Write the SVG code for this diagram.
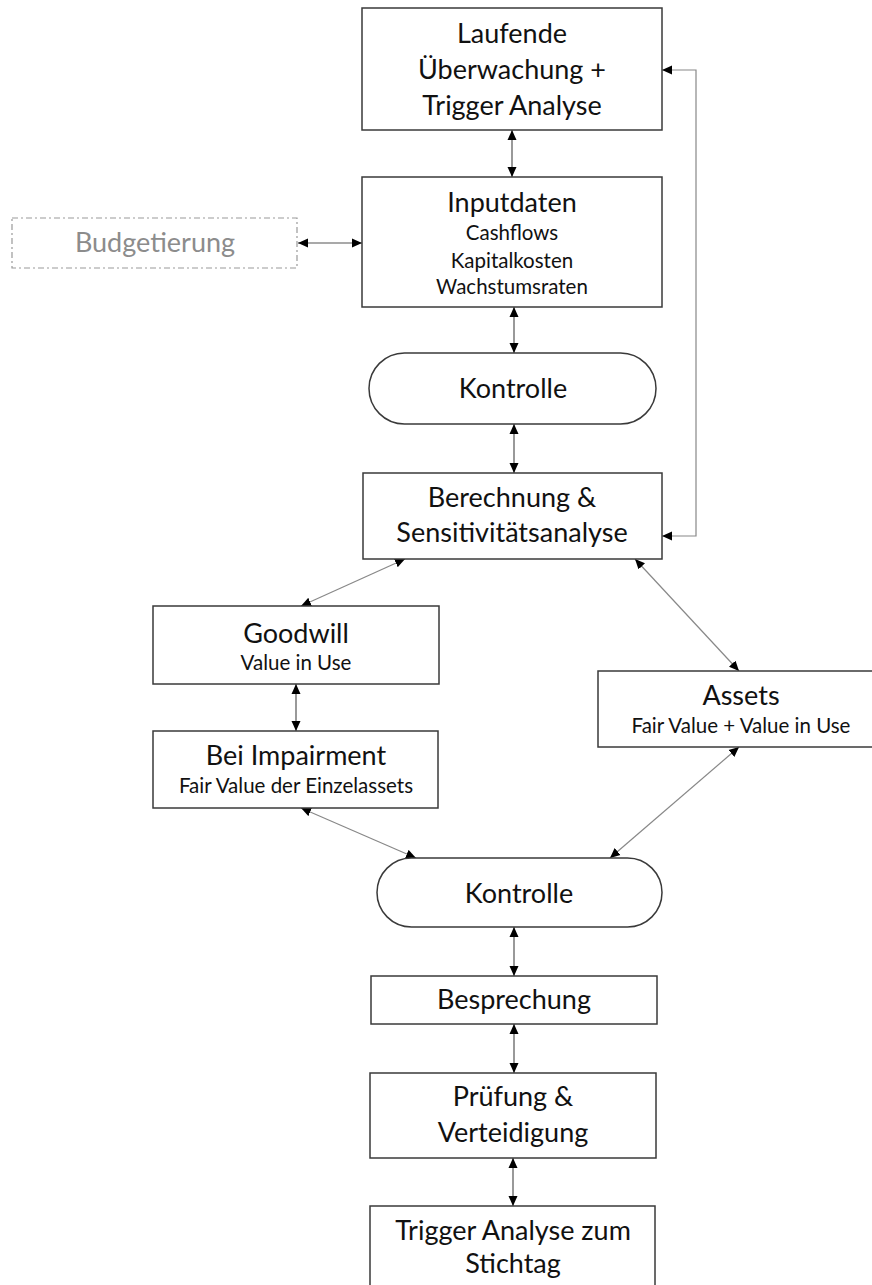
<svg xmlns="http://www.w3.org/2000/svg" width="872" height="1285" viewBox="0 0 872 1285">
<style>
.box{fill:#fff;stroke:#3a3a3a;stroke-width:1.5}
.t{font-family:Lato,"Liberation Sans",sans-serif;font-size:27px;fill:#111;text-anchor:middle}
.s{font-family:Lato,"Liberation Sans",sans-serif;font-size:20.5px;fill:#111;text-anchor:middle}
.c{fill:none;stroke:#555;stroke-width:1.2;marker-start:url(#ah);marker-end:url(#ah)}
.d{stroke:#888}
</style>
<defs>
<marker id="ah" markerUnits="userSpaceOnUse" markerWidth="10" markerHeight="10" refX="10" refY="4.5" orient="auto-start-reverse" viewBox="0 0 10 9">
<path d="M0,0 L10,4.5 L0,9 z" fill="#000"/>
</marker>
</defs>
<rect width="872" height="1285" fill="#fff"/>
<g id="connectors">
<path class="c" d="M512,130 V177"/>
<path class="c" d="M298,243 H362"/>
<path class="c" d="M514,307 V353"/>
<path class="c" d="M514,424 V473"/>
<path class="c d" d="M662,70 H696 V536 H662"/>
<path class="c d" d="M405,559 L301,606"/>
<path class="c d" d="M635,559 L739,671"/>
<path class="c" d="M296,684 V731"/>
<path class="c d" d="M301,808 L416,858"/>
<path class="c d" d="M739,747 L610,858"/>
<path class="c" d="M514,927 V976"/>
<path class="c" d="M514,1024 V1073"/>
<path class="c" d="M513,1158 V1206"/>
</g>
<g id="laufende">
<rect class="box" x="362" y="8" width="300" height="122"/>
<text class="t" x="512" y="43">Laufende</text>
<text class="t" x="512" y="79">Überwachung +</text>
<text class="t" x="512" y="115">Trigger Analyse</text>
</g>
<g id="inputdaten">
<rect class="box" x="362" y="177" width="300" height="130"/>
<text class="t" x="512" y="212">Inputdaten</text>
<text class="s" x="512" y="240">Cashflows</text>
<text class="s" x="512" y="268">Kapitalkosten</text>
<text class="s" x="512" y="294">Wachstumsraten</text>
</g>
<g id="budgetierung">
<rect x="12" y="218" width="285" height="50" fill="#fff" stroke="#999" stroke-width="1.2" stroke-dasharray="6,3,2,3"/>
<text class="t" x="155" y="252" style="fill:#8c8c8c">Budgetierung</text>
</g>
<g id="kontrolle1">
<rect class="box" x="369" y="353" width="287" height="71" rx="35.5" ry="35.5"/>
<text class="t" x="513" y="398">Kontrolle</text>
</g>
<g id="berechnung">
<rect class="box" x="363" y="473" width="299" height="86"/>
<text class="t" x="512" y="507">Berechnung &amp;</text>
<text class="t" x="512" y="542">Sensitivitätsanalyse</text>
</g>
<g id="goodwill">
<rect class="box" x="153" y="606" width="286" height="78"/>
<text class="t" x="296" y="643">Goodwill</text>
<text class="s" x="296" y="670">Value in Use</text>
</g>
<g id="impairment">
<rect class="box" x="153" y="731" width="285" height="77"/>
<text class="t" x="296" y="765">Bei Impairment</text>
<text class="s" x="296" y="793">Fair Value der Einzelassets</text>
</g>
<g id="assets">
<rect class="box" x="598" y="671" width="287" height="76"/>
<text class="t" x="741" y="705">Assets</text>
<text class="s" x="741" y="733">Fair Value + Value in Use</text>
</g>
<g id="kontrolle2">
<rect class="box" x="377" y="858" width="285" height="69" rx="34.5" ry="34.5"/>
<text class="t" x="519" y="903">Kontrolle</text>
</g>
<g id="besprechung">
<rect class="box" x="371" y="976" width="286" height="48"/>
<text class="t" x="514" y="1009">Besprechung</text>
</g>
<g id="pruefung">
<rect class="box" x="370" y="1073" width="286" height="85"/>
<text class="t" x="513" y="1106">Prüfung &amp;</text>
<text class="t" x="513" y="1142">Verteidigung</text>
</g>
<g id="trigger">
<rect class="box" x="370" y="1206" width="285" height="90"/>
<text class="t" x="513" y="1240">Trigger Analyse zum</text>
<text class="t" x="513" y="1273">Stichtag</text>
</g>
</svg>
